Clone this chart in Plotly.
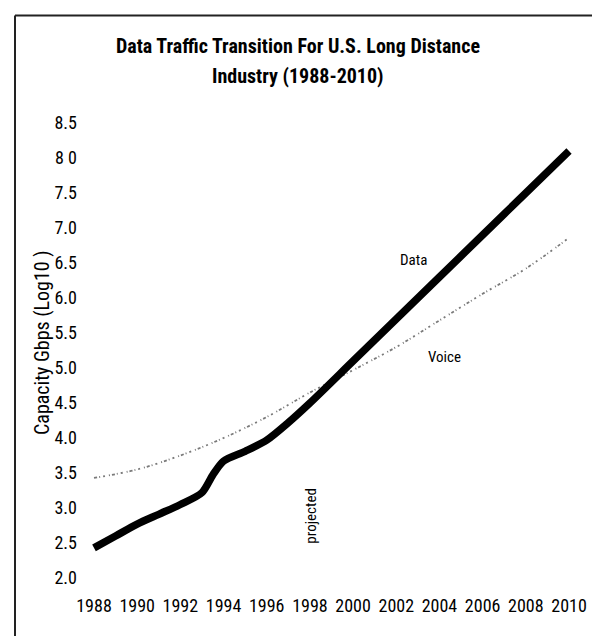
import plotly.graph_objects as go

# ---- data ----
years_data = [1988, 1989, 1990, 1991, 1992, 1993, 1993.5, 1994, 1995, 1996, 1997, 1998,
              2000, 2002, 2004, 2006, 2008, 2010]
data_vals = [2.43, 2.60, 2.77, 2.91, 3.05, 3.22, 3.47, 3.67, 3.81, 3.97, 4.22, 4.50,
             5.10, 5.70, 6.30, 6.90, 7.50, 8.10]

years_voice = [1988, 1990, 1992, 1994, 1996, 1998, 2000, 2002, 2004, 2006, 2008, 2010]
voice_vals = [3.43, 3.55, 3.75, 4.00, 4.30, 4.65, 4.97, 5.30, 5.68, 6.06, 6.42, 6.86]

x_ticks = [1988, 1990, 1992, 1994, 1996, 1998, 2000, 2002, 2004, 2006, 2008, 2010]
y_ticks = [2.0, 2.5, 3.0, 3.5, 4.0, 4.5, 5.0, 5.5, 6.0, 6.5, 7.0, 7.5, 8.0, 8.5]
y_tick_text = ["2.0", "2.5", "3.0", "3.5", "4.0", "4.5", "5.0", "5.5", "6.0", "6.5",
               "7.0", "7.5", "8 0", "8.5"]

title_lines = ["Data Traffic Transition For U.S. Long Distance", "Industry (1988-2010)"]
y_title = "Capacity Gbps (Log10 )"

FONT = "Roboto Condensed, Liberation Sans, sans-serif"

fig = go.Figure()
fig.add_trace(go.Scatter(
    x=years_voice, y=voice_vals, mode="lines",
    line=dict(color="#7a7a7a", width=1.8, dash="3px,2px,1px,3px,2px,4px,1px,2px",
              shape="spline"),
    showlegend=False, hoverinfo="skip"))
fig.add_trace(go.Scatter(
    x=years_data, y=data_vals, mode="lines",
    line=dict(color="black", width=7.5, shape="spline", smoothing=0.8),
    showlegend=False, hoverinfo="skip"))

L, R, T, B = 75, 20, 105, 56
W, H = 600, 636
pw, ph = W - L - R, H - T - B

def px_x(px):
    return (px - L) / pw

def px_y(py):
    return (H - B - py) / ph

annotations = [
    dict(text=title_lines[0], x=px_x(290), y=px_y(38), xref="paper", yref="paper",
         showarrow=False, font=dict(family=FONT, size=20, color="black", weight="bold"),
         xanchor="center", yanchor="middle"),
    dict(text=title_lines[1], x=px_x(290), y=px_y(68), xref="paper", yref="paper",
         showarrow=False, font=dict(family=FONT, size=20, color="black", weight="bold"),
         xanchor="center", yanchor="middle"),
    dict(text=y_title, x=px_x(34), y=px_y(335), xref="paper", yref="paper",
         showarrow=False, textangle=-90, font=dict(family=FONT, size=20, color="black"),
         xanchor="center", yanchor="middle"),
    dict(text="Data", x=2002.8, y=6.54, showarrow=False,
         font=dict(family=FONT, size=15, color="black")),
    dict(text="Voice", x=2004.25, y=5.16, showarrow=False,
         font=dict(family=FONT, size=15, color="black")),
    dict(text="projected", x=1998.05, y=2.89, showarrow=False, textangle=-90,
         font=dict(family=FONT, size=15, color="black")),
]

shapes = [
    dict(type="line", xref="paper", yref="paper", x0=px_x(7), x1=px_x(600),
         y0=px_y(7.5), y1=px_y(7.5), line=dict(color="#222", width=2)),
    dict(type="line", xref="paper", yref="paper", x0=px_x(7), x1=px_x(7),
         y0=px_y(7.5), y1=px_y(636), line=dict(color="#222", width=2)),
]

fig.update_layout(
    width=W, height=H,
    margin=dict(l=L, r=R, t=T, b=B),
    paper_bgcolor="white", plot_bgcolor="white",
    font=dict(family=FONT, size=18, color="black"),
    annotations=annotations, shapes=shapes,
    xaxis=dict(range=[1988 - 11 / 21.6, 2010 + 19 / 21.6], tickvals=x_ticks,
               showgrid=False, zeroline=False, showline=False, ticks="",
               tickfont=dict(family=FONT, size=18), ticklabelstandoff=5),
    yaxis=dict(range=[2.0 - 10 / 70, 8.5 + 10 / 70], tickvals=y_ticks, ticktext=y_tick_text,
               showgrid=False, zeroline=False, showline=False, ticks="",
               tickfont=dict(family=FONT, size=18), ticklabelstandoff=5),
)

fig.write_html("out.html")
